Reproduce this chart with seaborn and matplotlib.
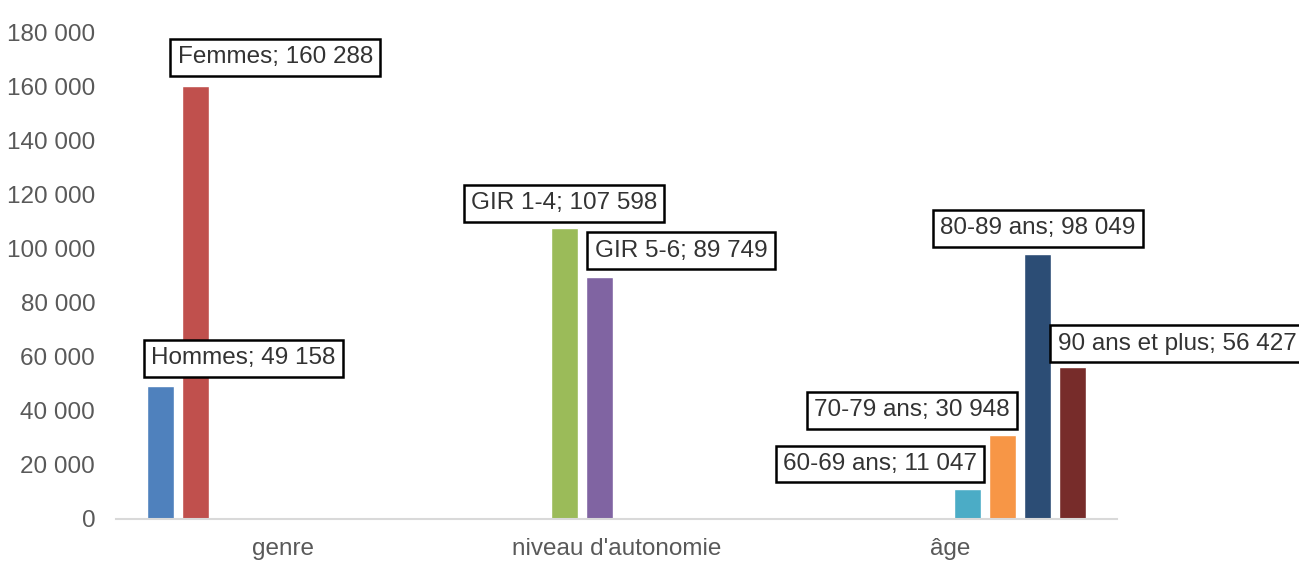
import pandas as pd
import matplotlib
matplotlib.use("Agg")
import matplotlib.pyplot as plt
import seaborn as sns

# Data
categories = ["genre", "niveau d'autonomie", "âge"]
series = ["Hommes", "Femmes", "GIR 1-4", "GIR 5-6",
          "60-69 ans", "70-79 ans", "80-89 ans", "90 ans et plus"]
series_category = ["genre", "genre", "niveau d'autonomie", "niveau d'autonomie",
                   "âge", "âge", "âge", "âge"]
values = [49158, 160288, 107598, 89749, 11047, 30948, 98049, 56427]
value_labels = ["49 158", "160 288", "107 598", "89 749",
                "11 047", "30 948", "98 049", "56 427"]
y_ticks = [0, 20000, 40000, 60000, 80000, 100000, 120000, 140000, 160000, 180000]
y_tick_labels = ["0", "20 000", "40 000", "60 000", "80 000", "100 000",
                 "120 000", "140 000", "160 000", "180 000"]

colors = ["#4F81BD", "#C0504D", "#9BBB59", "#8064A2",
          "#4BACC6", "#F79646", "#2C4D75", "#772C2A"]
# label box offsets from bar top (pixels)
label_offsets = [(83, 28), (80, 29), (0, 25), (82, 26),
                 (-88, 25), (-91, 25), (0, 26), (104, 23)]

df = pd.DataFrame({"categorie": series_category, "serie": series, "valeur": values})

sns.set_style("white")
plt.rcParams["font.family"] = ["Liberation Sans", "DejaVu Sans"]

fig = plt.figure(figsize=(12.99, 5.61), dpi=100)
ax = fig.add_axes([0.0893, 0.0749, 0.7707, 0.8663])

sns.barplot(data=df, x="categorie", y="valeur", hue="serie", order=categories,
            hue_order=series, palette=colors, width=0.84, gap=0.23,
            saturation=1, legend=False, ax=ax)

ax.set_ylim(0, 180000)
ax.set_xlim(-0.5, 2.5)
ax.set_yticks(y_ticks)
ax.set_yticklabels(y_tick_labels)
ax.set_xlabel("")
ax.set_ylabel("")
ax.tick_params(axis="y", length=0, pad=15, labelsize=17.5, labelcolor="#595959")
ax.tick_params(axis="x", length=0, pad=14, labelsize=17.5, labelcolor="#595959")
for s in ["top", "right", "left"]:
    ax.spines[s].set_visible(False)
ax.spines["bottom"].set_color("#D9D9D9")
ax.spines["bottom"].set_linewidth(1.5)

# data labels in boxes
for container, name, lab, off in zip(ax.containers, series, value_labels, label_offsets):
    for bar in container:
        h = bar.get_height()
        if not h > 0:
            continue
        xc = bar.get_x() + bar.get_width() / 2
        ax.annotate(f"{name}; {lab}", xy=(xc, h), xytext=off,
                    textcoords="offset pixels", ha="center", va="center",
                    fontsize=17.5, color="#333333", annotation_clip=False,
                    bbox=dict(boxstyle="square,pad=0.3", fc="white",
                              ec="black", lw=1.8))

fig.savefig("out.png", dpi=100)
